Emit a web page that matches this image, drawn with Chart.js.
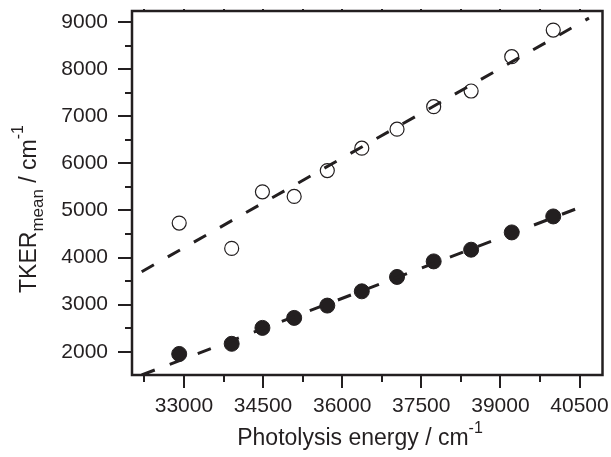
<!DOCTYPE html>
<html>
<head>
<meta charset="utf-8">
<script src="https://cdn.jsdelivr.net/npm/chart.js@4.4.1/dist/chart.umd.min.js"></script>
<style>
    html, body { margin: 0; padding: 0; background: #fff; }
    #wrap { width: 611px; height: 457px; position: relative; }
</style>
</head>
<body>
<div id="wrap"><canvas id="tkerChart"></canvas></div>
<script>
// photolysis energies (cm-1), same for both series
const energies = [32910, 33905, 34488, 35090, 35718, 36372, 37040, 37735, 38445, 39215, 40002];
// open circles
const tkerOpen = [4733, 4195, 5396, 5297, 5847, 6322, 6725, 7203, 7535, 8264, 8828];
// filled circles
const tkerFilled = [1955, 2170, 2508, 2720, 2981, 3284, 3589, 3919, 4167, 4534, 4873];
// dashed linear fits, start and end points
const fitX = [32199, 40680];
const fitOpen = [3700, 9082];
const fitFilled = [1508, 5138];
// axes
const xTicks = [33000, 34500, 36000, 37500, 39000, 40500];
const xMinor = [32250, 33750, 35250, 36750, 38250, 39750];
const yTicks = [2000, 3000, 4000, 5000, 6000, 7000, 8000, 9000];
const yMinor = [2500, 3500, 4500, 5500, 6500, 7500, 8500];

const ink = '#231f20';
const fontFamily = "'Liberation Sans', Arial, Helvetica, sans-serif";

function toPoints(xs, ys) {
    return xs.map((x, i) => ({ x: x, y: ys[i] }));
}

// draws text pieces (normal / sub / superscript) in a row, centred on x
function drawRich(ctx, parts, cx, baseline) {
    let total = 0;
    parts.forEach(p => {
        ctx.font = p.size + 'px ' + fontFamily;
        p.w = ctx.measureText(p.text).width;
        total += p.w;
    });
    let x = cx - total / 2;
    ctx.textAlign = 'left';
    ctx.textBaseline = 'alphabetic';
    parts.forEach(p => {
        ctx.font = p.size + 'px ' + fontFamily;
        ctx.fillText(p.text, x, baseline + p.dy);
        x += p.w;
    });
}

const framePlugin = {
    id: 'frame',
    afterDraw(chart) {
        const ctx = chart.ctx;
        const a = chart.chartArea;
        const xs = chart.scales.x;
        const ys = chart.scales.y;
        ctx.save();
        ctx.strokeStyle = ink;
        ctx.fillStyle = ink;

        // ticks
        ctx.lineWidth = 2;
        ctx.beginPath();
        xTicks.forEach(v => {
            const px = Math.round(xs.getPixelForValue(v));
            ctx.moveTo(px, a.bottom); ctx.lineTo(px, a.bottom + 13);
            ctx.moveTo(px, a.top); ctx.lineTo(px, a.top - 2);
        });
        xMinor.forEach(v => {
            const px = Math.round(xs.getPixelForValue(v));
            ctx.moveTo(px, a.bottom); ctx.lineTo(px, a.bottom + 7);
            ctx.moveTo(px, a.top); ctx.lineTo(px, a.top - 2);
        });
        yTicks.forEach(v => {
            const py = Math.round(ys.getPixelForValue(v));
            ctx.moveTo(a.left, py); ctx.lineTo(a.left - 14, py);
        });
        yMinor.forEach(v => {
            const py = Math.round(ys.getPixelForValue(v));
            ctx.moveTo(a.left, py); ctx.lineTo(a.left - 7, py);
        });
        ctx.stroke();

        // box
        ctx.lineWidth = 2.5;
        ctx.strokeRect(a.left, a.top, a.right - a.left, a.bottom - a.top);

        // x title
        drawRich(ctx, [
            { text: 'Photolysis energy / cm', size: 23, dy: 0 },
            { text: '-1', size: 16, dy: -12 }
        ], 360, 445);

        // y title
        ctx.translate(36, 209);
        ctx.rotate(-Math.PI / 2);
        drawRich(ctx, [
            { text: 'TKER', size: 23, dy: 0 },
            { text: 'mean', size: 17, dy: 7 },
            { text: ' / cm', size: 23, dy: 0 },
            { text: '-1', size: 16, dy: -13 }
        ], 0, 0);
        ctx.restore();
    }
};

const tickFont = { family: fontFamily, size: 21 };

new Chart(document.getElementById('tkerChart'), {
    type: 'scatter',
    data: {
        datasets: [
            {
                label: 'fit open',
                data: toPoints(fitX, fitOpen),
                showLine: true,
                borderColor: ink,
                borderWidth: 3,
                borderDash: [14, 16],
                pointRadius: 0,
                order: 0
            },
            {
                label: 'fit filled',
                data: toPoints(fitX, fitFilled),
                showLine: true,
                borderColor: ink,
                borderWidth: 3,
                borderDash: [14, 16],
                pointRadius: 0,
                order: 0
            },
            {
                label: 'open',
                data: toPoints(energies, tkerOpen),
                pointRadius: 7,
                pointBorderWidth: 1.2,
                pointBorderColor: ink,
                pointBackgroundColor: '#ffffff',
                order: 1
            },
            {
                label: 'filled',
                data: toPoints(energies, tkerFilled),
                pointRadius: 7.5,
                pointBorderWidth: 1,
                pointBorderColor: ink,
                pointBackgroundColor: ink,
                order: 1
            }
        ]
    },
    options: {
        responsive: true,
        maintainAspectRatio: false,
        animation: false,
        layout: { padding: { top: 11, right: 8, left: 0, bottom: 0 } },
        plugins: {
            legend: { display: false },
            tooltip: { enabled: false }
        },
        scales: {
            x: {
                type: 'linear',
                min: 32015,
                max: 40936,
                afterBuildTicks: s => { s.ticks = xTicks.map(v => ({ value: v })); },
                afterFit: s => { s.height = 82; s.paddingLeft = 0; s.paddingRight = 0; },
                grid: { display: false, drawTicks: false },
                border: { display: false },
                ticks: {
                    padding: 19, font: tickFont, color: ink, maxRotation: 0, autoSkip: false,
                    callback: v => String(v)
                }
            },
            y: {
                type: 'linear',
                min: 1508,
                max: 9233,
                afterBuildTicks: s => { s.ticks = yTicks.map(v => ({ value: v })); },
                afterFit: s => { s.width = 132; s.paddingTop = 0; s.paddingBottom = 0; },
                grid: { display: false, drawTicks: false },
                border: { display: false },
                ticks: {
                    padding: 24, font: tickFont, color: ink, autoSkip: false,
                    callback: v => String(v)
                }
            }
        }
    },
    plugins: [framePlugin]
});
</script>
</body>
</html>
